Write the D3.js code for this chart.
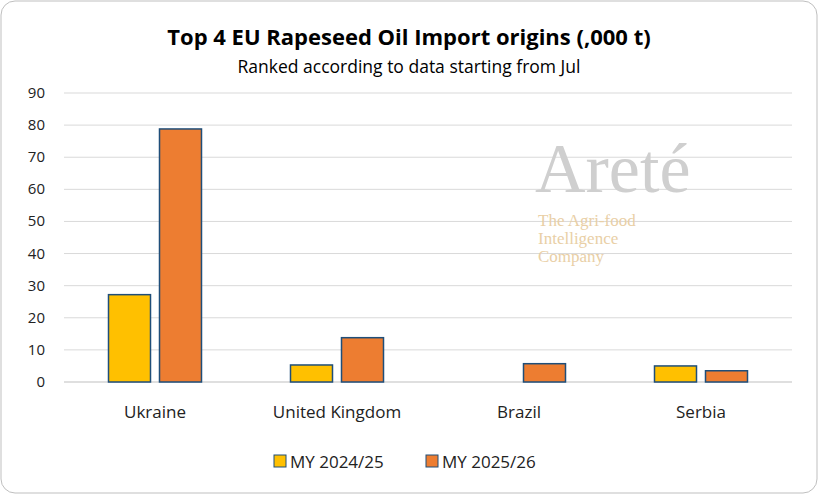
<!DOCTYPE html>
<html><head><meta charset="utf-8">
<script src="https://cdn.jsdelivr.net/npm/d3@7"></script>
<style>body{margin:0;background:#fff;font-family:"Open Sans",sans-serif}</style>
</head><body><svg id="c" width="818" height="494"></svg>
<script>
const categories=["Ukraine","United Kingdom","Brazil","Serbia"];
const seriesNames=["MY 2024/25","MY 2025/26"];
const s2425=[27.2,5.3,0,5.0];
const s2526=[78.8,13.8,5.7,3.5];
const yTicks=[0,10,20,30,40,50,60,70,80,90];
const colors=["#FFC000","#ED7D31"];
const svg=d3.select("#c");
svg.append("rect").attr("x",1).attr("y",1).attr("width",816).attr("height",492).attr("rx",14).attr("fill","#fff").attr("stroke","#BFBFBF");
svg.append("text").attr("x",409).attr("y",45).attr("text-anchor","middle").attr("font-size",22).attr("font-weight","bold").text("Top 4 EU Rapeseed Oil Import origins (,000 t)");
svg.append("text").attr("x",409).attr("y",73).attr("text-anchor","middle").attr("font-size",17.5).text("Ranked according to data starting from Jul");
const x=d3.scaleBand().domain(categories).range([64,792]);
const y=d3.scaleLinear().domain([0,90]).range([382,93]);
const g=svg.append("g");
yTicks.forEach(t=>{g.append("line").attr("x1",64).attr("x2",792).attr("y1",y(t)).attr("y2",y(t)).attr("stroke",t===0?"#BFBFBF":"#D9D9D9");
g.append("text").attr("x",45).attr("y",y(t)+5).attr("text-anchor","end").attr("font-size",15).attr("fill","#222").text(t);});
const wm=svg.append("g");
wm.append("text").attr("x",535).attr("y",192).attr("font-family","Liberation Serif,serif").attr("font-size",70).attr("fill","#CFCFCF").text("Areté");
["The Agri-food","Intelligence","Company"].forEach((t,i)=>wm.append("text").attr("x",538).attr("y",226+i*18).attr("font-family","Liberation Serif,serif").attr("font-size",17).attr("fill","#E9CFA6").text(t));
const bw=42,gap=9;
[s2425,s2526].forEach((arr,si)=>{
 g.selectAll(null).data(arr).enter().append("rect")
 .attr("x",(d,i)=>x(categories[i])+x.bandwidth()/2+(si===0?-gap/2-bw:gap/2))
 .attr("y",d=>y(d)).attr("width",bw).attr("height",d=>d>0?y(0)-y(d):0)
 .attr("fill",colors[si]).attr("stroke",d=>d>0?"#1F4E79":"none").attr("stroke-width",1.5);
});
categories.forEach(c=>g.append("text").attr("x",x(c)+x.bandwidth()/2).attr("y",418).attr("text-anchor","middle").attr("font-size",17).attr("fill","#222").text(c));
const lx=[274,426];
seriesNames.forEach((n,i)=>{svg.append("rect").attr("x",lx[i]).attr("y",455).attr("width",12).attr("height",12).attr("fill",colors[i]).attr("stroke","#1F4E79");
svg.append("text").attr("x",lx[i]+16).attr("y",468).attr("font-size",17).attr("fill","#222").text(n);});
</script></body></html>
